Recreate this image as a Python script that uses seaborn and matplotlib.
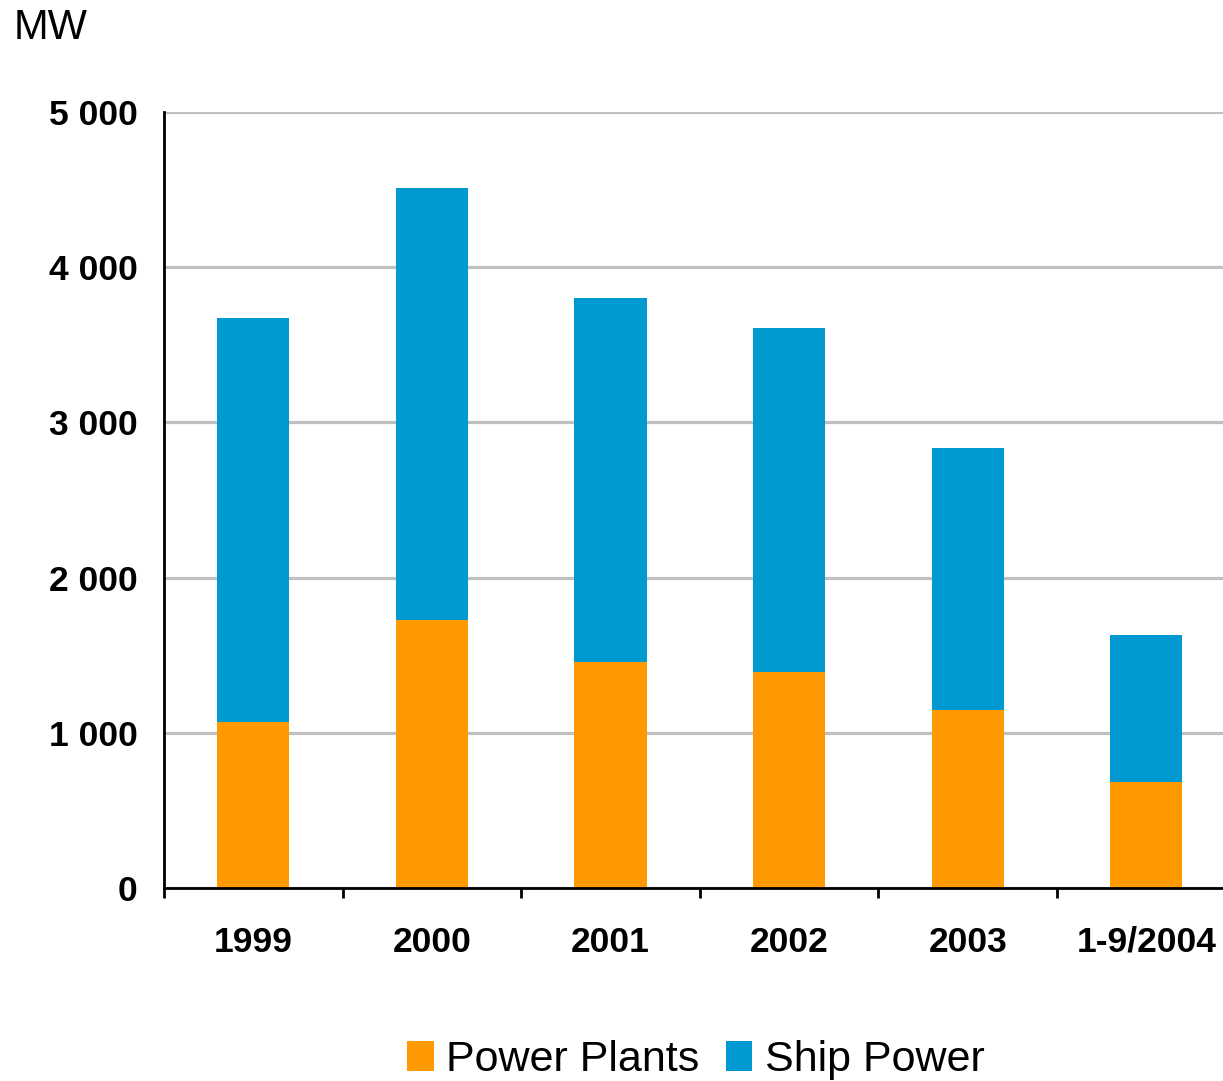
import numpy as np
import pandas as pd
import matplotlib
matplotlib.use("Agg")
import matplotlib.pyplot as plt
from matplotlib.ticker import FuncFormatter, FixedLocator
from matplotlib.patches import Patch
import seaborn as sns

# Deliveries by year, MW
years = ["1999", "2000", "2001", "2002", "2003", "1-9/2004"]
power_plants = [1070, 1730, 1455, 1390, 1150, 685]
ship_power = [2605, 2780, 2345, 2220, 1685, 945]
y_ticks = [0, 1000, 2000, 3000, 4000, 5000]

ORANGE = "#FF9900"
BLUE = "#0099D0"
GRID = "#C0C0C0"

sns.set_style("white")
plt.rcParams["font.family"] = ["Liberation Sans", "DejaVu Sans"]
plt.rcParams["text.color"] = "black"
plt.rcParams["xtick.color"] = "black"
plt.rcParams["ytick.color"] = "black"
plt.rcParams["xtick.labelcolor"] = "black"
plt.rcParams["ytick.labelcolor"] = "black"

df = pd.DataFrame({
    "year": years,
    "power": power_plants,
    "ship": ship_power,
})
df["total"] = df["power"] + df["ship"]

fig = plt.figure(figsize=(12.23, 10.81), dpi=100)
ax = fig.add_axes([164 / 1223, 1 - 888 / 1081, 1 - 164 / 1223, 776 / 1081])

bar_w = 0.405
sns.barplot(data=df, x="year", y="total", order=years, color=BLUE,
            saturation=1, width=bar_w, linewidth=0, ax=ax, zorder=2)
sns.barplot(data=df, x="year", y="power", order=years, color=ORANGE,
            saturation=1, width=bar_w, linewidth=0, ax=ax, zorder=3)

ax.set_ylim(0, 5000)
ax.set_xlim(-0.5, -0.5 + 1059 / 178.6)
ax.set_xlabel("")
ax.set_ylabel("")

# grid and spines
ax.set_axisbelow(True)
ax.yaxis.grid(True, color=GRID, linewidth=2.3)
ax.xaxis.grid(False)
for side in ("top", "right"):
    ax.spines[side].set_visible(False)
for side in ("left", "bottom"):
    ax.spines[side].set_linewidth(2)
    ax.spines[side].set_color("black")
    ax.spines[side].set_zorder(5)

# y axis ticks
ax.yaxis.set_major_locator(FixedLocator(y_ticks))
ax.yaxis.set_major_formatter(FuncFormatter(lambda v, p: f"{int(v):,}".replace(",", " ")))
ax.tick_params(axis="y", which="major", direction="out", length=7, width=2,
               color="black", labelcolor="black", pad=12, labelsize=25.5)
for lab in ax.get_yticklabels():
    lab.set_fontweight("bold")

# x axis: labels at centres, tick marks at category boundaries
ax.set_xticks(range(len(years)))
ax.set_xticklabels(years, fontsize=25.5, fontweight="bold", color="black")
ax.set_xticks(np.arange(-0.5, len(years) - 0.5, 1.0), minor=True)
ax.tick_params(axis="x", which="major", length=0, pad=27)
ax.tick_params(axis="x", which="minor", direction="out", length=7, width=2,
               color="black", bottom=True)

fig.text(14 / 1223, 1 - 39 / 1081, "MW", fontsize=30, va="baseline", ha="left",
         color="black")

handles = [Patch(facecolor=ORANGE, edgecolor="none", label="Power Plants"),
           Patch(facecolor=BLUE, edgecolor="none", label="Ship Power")]
fig.legend(handles=handles, loc="center", bbox_to_anchor=(0.569, 1 - 1060 / 1081),
           ncol=2, frameon=False, fontsize=31, handlelength=0.62,
           handleheight=0.72, handletextpad=0.3, columnspacing=0.6,
           borderpad=0, borderaxespad=0, labelcolor="black")

fig.savefig("out.png", dpi=100)
